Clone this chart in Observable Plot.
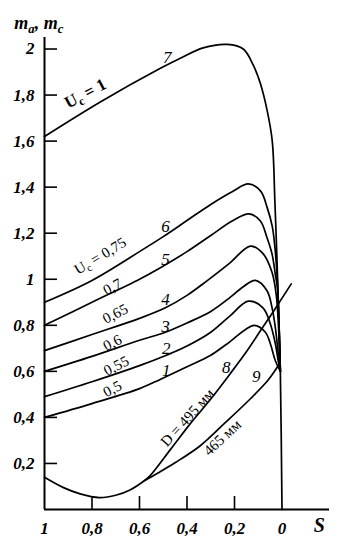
<!DOCTYPE html>
<html><head><meta charset="utf-8">
<script src="https://cdn.jsdelivr.net/npm/d3@7"></script>
<script src="https://cdn.jsdelivr.net/npm/@observablehq/plot@0.6"></script>
<style>body{margin:0;background:#fff}</style>
</head><body><div id="chart"></div>
<script>
// ---- data (s on x, m on y) ----
const c1S = [1, 0.8, 0.6, 0.513, 0.4, 0.3, 0.23, 0.117, 0.07, 0.049, 0.028, 0.007];
const c1M = [0.40, 0.46, 0.525, 0.565, 0.62, 0.67, 0.72, 0.80, 0.77, 0.72, 0.646, 0.60];
const c2S = [1, 0.8, 0.6, 0.487, 0.4, 0.3, 0.22, 0.142, 0.08, 0.049, 0.028, 0.015, 0.007];
const c2M = [0.49, 0.555, 0.625, 0.67, 0.71, 0.77, 0.84, 0.905, 0.876, 0.806, 0.72, 0.64, 0.60];
const c3S = [1, 0.8, 0.6, 0.491, 0.4, 0.3, 0.22, 0.16, 0.112, 0.063, 0.042, 0.028, 0.015, 0.007];
const c3M = [0.60, 0.665, 0.735, 0.77, 0.81, 0.86, 0.92, 0.97, 0.995, 0.95, 0.877, 0.79, 0.67, 0.60];
const c4S = [1, 0.8, 0.6, 0.491, 0.4, 0.316, 0.22, 0.133, 0.079, 0.042, 0.024, 0.015, 0.007];
const c4M = [0.69, 0.76, 0.83, 0.876, 0.93, 0.993, 1.07, 1.144, 1.11, 1.03, 0.93, 0.80, 0.60];
const c5S = [1, 0.8, 0.6, 0.512, 0.4, 0.3, 0.21, 0.138, 0.091, 0.063, 0.042, 0.028, 0.019, 0.013, 0.007];
const c5M = [0.80, 0.90, 1.00, 1.05, 1.12, 1.19, 1.253, 1.284, 1.253, 1.18, 1.11, 1.02, 0.96, 0.82, 0.60];
const c6S = [1, 0.8, 0.6, 0.5, 0.4, 0.3, 0.21, 0.142, 0.09, 0.062, 0.041, 0.028, 0.019, 0.013, 0.007];
const c6M = [0.90, 0.995, 1.12, 1.185, 1.255, 1.325, 1.38, 1.414, 1.383, 1.31, 1.23, 1.12, 0.98, 0.82, 0.60];
const c7S = [1, 0.765, 0.512, 0.428, 0.332, 0.23, 0.163, 0.121, 0.091, 0.062, 0.041, 0.030, 0.021, 0.013, 0.007, 0];
const c7M = [1.62, 1.77, 1.916, 1.96, 2.005, 2.02, 2.00, 1.93, 1.85, 1.73, 1.60, 1.34, 1.08, 0.82, 0.60, 0];
const c8S = [1, 0.92, 0.85, 0.77, 0.70, 0.64, 0.58, 0.555, 0.47, 0.386, 0.3, 0.218, 0.15, 0.091, 0.03, -0.039];
const c8M = [0.14, 0.095, 0.068, 0.052, 0.062, 0.085, 0.125, 0.147, 0.26, 0.373, 0.48, 0.59, 0.685, 0.776, 0.87, 0.98];
const c9S = [0.58, 0.52, 0.449, 0.344, 0.239, 0.133, 0.06, 0.016];
const c9M = [0.125, 0.16, 0.204, 0.277, 0.377, 0.481, 0.56, 0.624];

const xTicks = [1, 0.8, 0.6, 0.4, 0.2, 0];
const xTickLabels = ["1", "0,8", "0,6", "0,4", "0,2", "0"];
const yTicks = [0.2, 0.4, 0.6, 0.8, 1, 1.2, 1.4, 1.6, 1.8, 2];
const yTickLabels = ["0,2", "0,4", "0,6", "0,8", "1", "1,2", "1,4", "1,6", "1,8", "2"];

// curve number labels
const numText = ["7", "6", "5", "4", "3", "2", "1", "8", "9"];
const numS = [0.483, 0.491, 0.491, 0.491, 0.491, 0.487, 0.487, 0.235, 0.108];
const numM = [1.964, 1.227, 1.084, 0.910, 0.793, 0.698, 0.603, 0.616, 0.577];

// rotated parameter labels
const parText = ["U_c = 1", "U_c = 0,75", "0,7", "0,65", "0,6", "0,55", "0,5", "D = 495 мм", "465 мм"];
const parS = [0.828, 0.765, 0.714, 0.702, 0.714, 0.698, 0.714, 0.398, 0.251];
const parM = [1.807, 1.101, 0.967, 0.850, 0.724, 0.624, 0.524, 0.399, 0.312];
const parAngle = [-28, -31, -27, -27, -27, -27, -27, -48, -43];

// ---- build tables ----
const series = [[c1S,c1M],[c2S,c2M],[c3S,c3M],[c4S,c4M],[c5S,c5M],[c6S,c6M],[c7S,c7M],[c8S,c8M],[c9S,c9M]];
const lines = series.flatMap(([S, M], i) => S.map((s, j) => ({curve: i + 1, s, m: M[j]})));
const nums = numText.map((t, i) => ({t, s: numS[i], m: numM[i]}));
const pars = parText.map((t, i) => ({t, s: parS[i], m: parM[i], a: parAngle[i]}));

const W = 356, H = 550, mL = 44, mR = 27, mT = 37, mB = 41;
const frameW = W - mL - mR, frameH = H - mT - mB;
const serif = "'Liberation Serif', 'DejaVu Serif', serif";

const chart = Plot.plot({
  width: W, height: H,
  marginLeft: mL, marginRight: mR, marginTop: mT, marginBottom: mB,
  x: {domain: [1, -0.2], axis: null},
  y: {domain: [0, 2.05], axis: null},
  style: {fontFamily: serif, background: "#fff", color: "#000"},
  marks: [
    // axes lines
    Plot.ruleX([1], {y1: 0, y2: 2.05, stroke: "#000", strokeWidth: 2}),
    Plot.ruleY([0], {x1: 1, x2: -0.2, stroke: "#000", strokeWidth: 2}),
    // inward ticks
    Plot.tickY(yTicks, {y: d => d, stroke: "#000", strokeWidth: 1.6, insetRight: frameW - 13}),
    Plot.tickX(xTicks.filter(d => d !== 1 && d !== 0), {x: d => d, stroke: "#000", strokeWidth: 1.6, insetTop: frameH - 13}),
    // tick labels
    Plot.axisX({ticks: xTicks, tickFormat: d => xTickLabels[xTicks.indexOf(d)], tickSize: 0, tickPadding: 12,
      fontSize: 17, fontStyle: "italic", fontWeight: "bold", fontFamily: serif, label: null}),
    Plot.axisY({ticks: yTicks, tickFormat: d => yTickLabels[yTicks.indexOf(d)], tickSize: 0, tickPadding: 10,
      fontSize: 17, fontStyle: "italic", fontWeight: "bold", fontFamily: serif, label: null}),
    // curves
    Plot.line(lines, {x: "s", y: "m", z: "curve", curve: "catmull-rom", stroke: "#000", strokeWidth: 1.7}),
    // curve numbers
    Plot.text(nums, {x: "s", y: "m", text: "t", fontSize: 17, fontStyle: "italic", fontFamily: serif, fill: "#000"}),
    // parameter labels
    Plot.text(pars, {x: "s", y: "m", text: "t", rotate: "a", fontSize: 15, fontFamily: serif, fill: "#000"}),
    // title and S
    Plot.text(["m_a, m_c"], {x: 1.127, y: 2.111, text: d => d, textAnchor: "start", fontSize: 18, fontStyle: "italic", fontWeight: "bold", fontFamily: serif, fill: "#000"}),
    Plot.text(["S"], {x: -0.157, y: -0.069, text: d => d, fontSize: 20, fontStyle: "italic", fontWeight: "bold", fontFamily: serif, fill: "#000"})
  ]
});

// subscripts
d3.select(chart).selectAll("text").each(function () {
  const t = this.textContent;
  if (!t.includes("_")) return;
  const parts = t.split(/_(.)/);
  this.textContent = "";
  let shifted = false;
  parts.forEach((p, i) => {
    const sub = i % 2 === 1;
    if (!p) return;
    const ts = d3.select(this).append("tspan").text(p);
    if (sub && !shifted) { ts.attr("dy", "0.3em").attr("font-size", "0.7em"); shifted = true; }
    else if (!sub && shifted) { ts.attr("dy", "-0.21em"); shifted = false; }
  });
});
// make "U_c = 1" bold
d3.select(chart).selectAll("text").filter(function () { return this.textContent === "Uc = 1"; })
  .attr("font-weight", "bold").attr("font-size", 17);

document.getElementById("chart").appendChild(chart);
</script></body></html>
